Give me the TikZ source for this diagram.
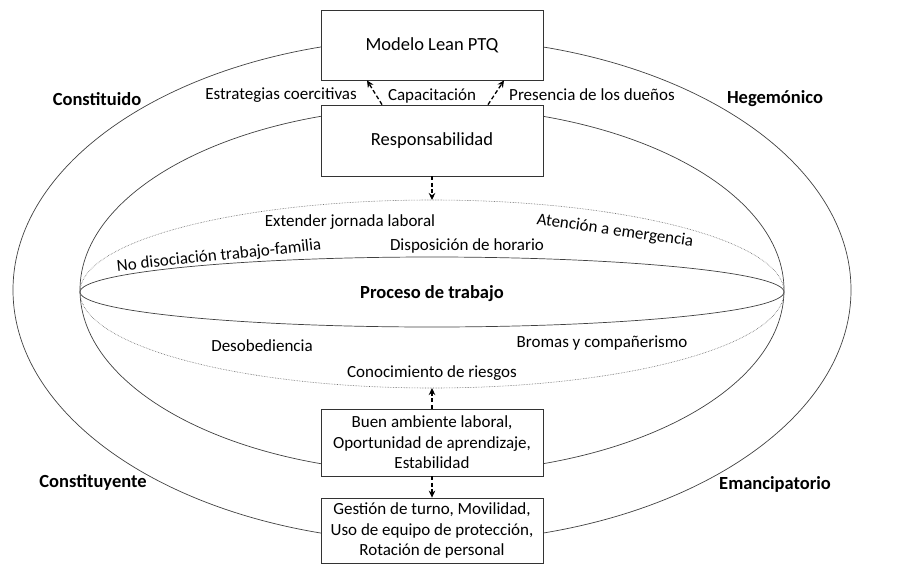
\documentclass[tikz,border=0pt]{standalone}
\usepackage{fontspec}
\setmainfont{Carlito}
\usetikzlibrary{arrows.meta}
\newcommand\myfs{\fontsize{17}{20.4}\selectfont}
\newcommand\mybig{\fontsize{18.5}{22}\selectfont}
\begin{document}
\begin{tikzpicture}[x=1pt,y=1pt,
  box/.style={draw=black!80, fill=white, line width=0.8pt, minimum width=222, inner sep=0, align=center, font=\myfs},
  lbl/.style={font=\myfs, inner sep=0},
  blbl/.style={font=\mybig\bfseries, inner sep=0},
  arr/.style={line width=1.3pt, dash pattern=on 4pt off 2.5pt, -{Stealth[length=7pt,width=6.5pt]}},
  ell/.style={draw=black!75, line width=0.7pt},
  dot/.style={draw=black!60, line width=0.6pt, densely dotted}]
\useasboundingbox (0,0) rectangle (915,-565);
% ellipses
\draw[ell] (432,-290) ellipse[x radius=419, y radius=252];
\draw[ell] (432,-290) ellipse[x radius=352, y radius=183];
\draw[ell] (432,-292) ellipse[x radius=352, y radius=35];
\draw[dot] (80,-292) arc[start angle=180, end angle=0, x radius=352, y radius=92];
\draw[dot] (80,-292) arc[start angle=180, end angle=360, x radius=352, y radius=96];
\coordinate (dtop) at (432,-200);
\coordinate (dbot) at (432,-388);
% boxes
\node[box, minimum height=70, font=\mybig] (m) at (432,-45) {Modelo Lean PTQ};
\node[box, minimum height=71, font=\mybig] (r) at (432,-140.5) {Responsabilidad};
\node[box, minimum height=67] (b) at (432,-442.5) {Buen ambiente laboral,\\Oportunidad de aprendizaje,\\Estabilidad};
\node[box, minimum height=65] (g) at (432,-530.5) {Gesti\'on de turno, Movilidad,\\Uso de equipo de protecci\'on,\\Rotaci\'on de personal};
% arrows
\draw[arr] ([xshift=-50]r.north) -- ([xshift=-65]m.south);
\draw[arr] ([xshift=56]r.north) -- ([xshift=72]m.south);
\draw[arr] (r.south) -- (dtop);
\draw[arr] (b.north) -- (dbot);
\draw[arr] (b.south) -- (g.north);
% labels
\node[blbl] (l1) at (97,-99) {Constituido};
\node[blbl] (l2) at (775,-99) {Hegem\'onico};
\node[blbl] (l3) at (93,-482) {Constituyente};
\node[blbl] (l4) at (775,-484) {Emancipatorio};
\node[lbl] (t1) at (281,-95) {Estrategias coercitivas};
\node[lbl] (t2) at (432,-96) {Capacitaci\'on};
\node[lbl] (t3) at (592,-95) {Presencia de los due\~nos};
\node[lbl] (t4) at (350,-222) {Extender jornada laboral};
\node[lbl, rotate=-8] (t5) at (615,-231) {Atenci\'on a emergencia};
\node[lbl, rotate=6] (t6) at (219,-256) {No disociaci\'on trabajo-familia};
\node[lbl] (t7) at (467,-246) {Disposici\'on de horario};
\node[blbl] (t8) at (432,-294) {Proceso de trabajo};
\node[lbl] (t9) at (262,-346) {Desobediencia};
\node[lbl] (t10) at (602,-343) {Bromas y compa\~nerismo};
\node[lbl] (t11) at (432,-373) {Conocimiento de riesgos};
\end{tikzpicture}
\end{document}
